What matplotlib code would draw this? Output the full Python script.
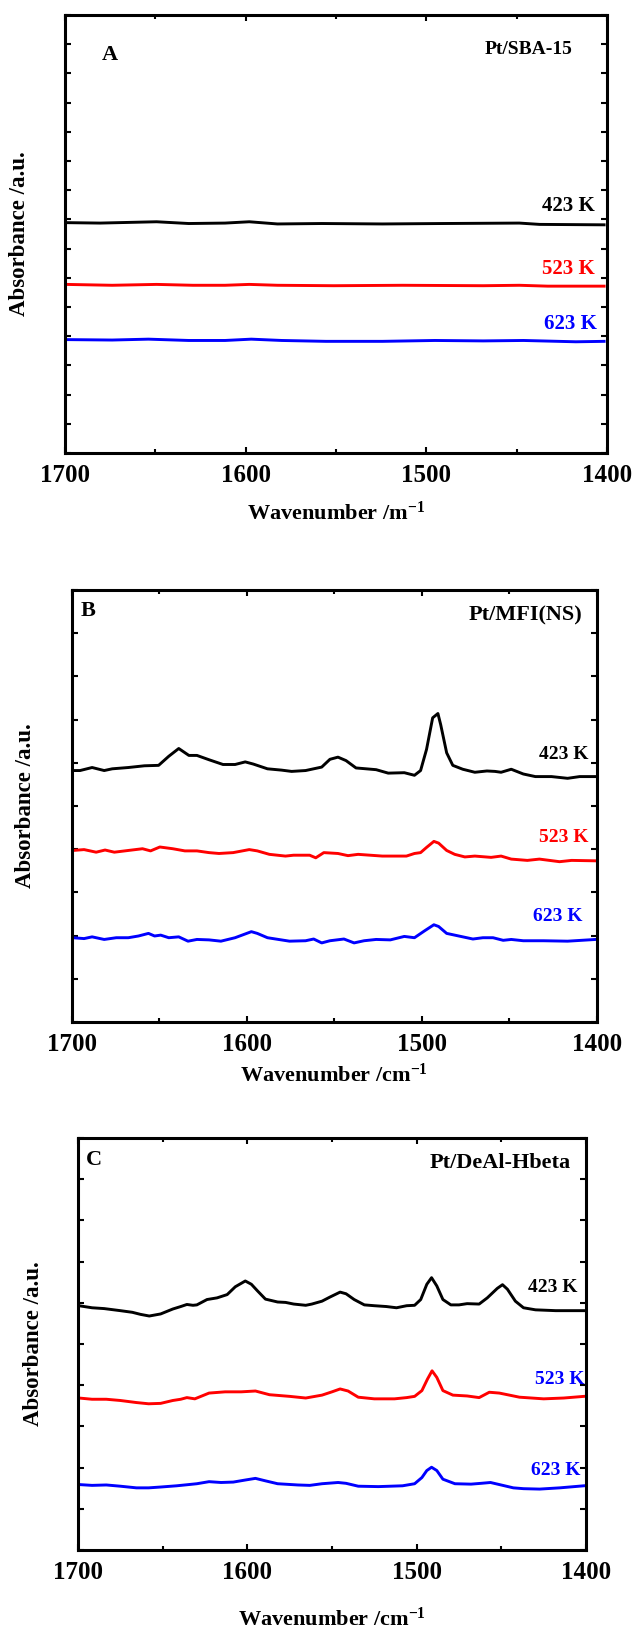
import numpy as np
from matplotlib import pyplot as plt

plt.rcParams['font.family'] = ['Liberation Serif', 'DejaVu Serif']
plt.rcParams['font.weight'] = 'bold'
plt.rcParams['mathtext.fontset'] = 'custom'
plt.rcParams['mathtext.rm'] = 'Liberation Serif:bold'
plt.rcParams['mathtext.default'] = 'rm'

# ---- panel A : Pt/SBA-15 ----
a_423_x = [1699.6, 1680.6, 1649.3, 1631.5, 1611.4, 1598.0, 1582.4, 1557.8, 1524.3, 1490.9, 1448.5, 1437.3, 1401.6]
a_423_y = [52.6, 52.5, 52.8, 52.4, 52.5, 52.8, 52.3, 52.4, 52.3, 52.4, 52.5, 52.2, 52.1]
a_523_x = [1699.6, 1673.9, 1649.3, 1629.2, 1611.4, 1598.0, 1582.4, 1551.1, 1513.2, 1468.5, 1448.5, 1432.8, 1401.6]
a_523_y = [38.5, 38.3, 38.5, 38.3, 38.3, 38.5, 38.3, 38.2, 38.3, 38.2, 38.3, 38.1, 38.1]
a_623_x = [1699.6, 1673.9, 1653.8, 1631.5, 1611.4, 1596.9, 1580.1, 1555.6, 1524.3, 1495.3, 1468.5, 1446.2, 1417.2, 1401.6]
a_623_y = [25.9, 25.8, 26.0, 25.7, 25.7, 26.0, 25.7, 25.5, 25.5, 25.7, 25.6, 25.7, 25.4, 25.5]

# ---- panel B : Pt/MFI(NS) ----
b_423_x = [1699.5, 1695.4, 1688.5, 1681.6, 1677.0, 1667.8, 1658.6, 1650.5, 1644.7, 1639.0, 1633.2, 1628.6,
           1621.7, 1613.7, 1606.8, 1601.0, 1596.4, 1588.3, 1580.3, 1574.5, 1566.5, 1557.3, 1552.6, 1548.0,
           1543.4, 1537.7, 1531.9, 1526.2, 1519.3, 1510.1, 1504.3, 1500.8, 1497.4, 1493.9, 1490.9, 1489.3,
           1485.9, 1482.4, 1476.7, 1469.8, 1462.9, 1458.3, 1454.8, 1449.0, 1442.1, 1435.2, 1426.0, 1416.8,
           1409.9, 1400.7]
b_423_y = [58.2, 58.2, 58.9, 58.2, 58.6, 58.9, 59.3, 59.4, 61.5, 63.3, 61.7, 61.7,
           60.7, 59.6, 59.6, 60.2, 59.7, 58.6, 58.3, 58.0, 58.2, 59.0, 60.8, 61.3,
           60.5, 58.8, 58.6, 58.4, 57.6, 57.7, 57.1, 58.2, 63.1, 70.4, 71.4, 68.8,
           62.3, 59.4, 58.5, 57.8, 58.1, 58.0, 57.8, 58.5, 57.4, 56.8, 56.8, 56.4,
           56.8, 56.8]
b_523_x = [1699.5, 1693.1, 1686.2, 1681.1, 1675.8, 1667.8, 1659.7, 1655.1, 1649.8, 1642.4, 1635.5, 1628.6,
           1621.7, 1616.0, 1607.9, 1598.7, 1594.1, 1587.2, 1578.0, 1573.4, 1564.2, 1560.7, 1556.1, 1548.0,
           1542.3, 1536.5, 1522.7, 1508.9, 1504.3, 1500.8, 1497.4, 1493.2, 1490.5, 1485.9, 1481.3, 1475.5,
           1469.8, 1460.5, 1454.8, 1449.0, 1439.8, 1432.9, 1421.4, 1414.5, 1400.7]
b_523_y = [39.7, 39.9, 39.3, 39.8, 39.3, 39.7, 40.1, 39.6, 40.5, 40.1, 39.6, 39.6,
           39.2, 39.0, 39.2, 39.9, 39.6, 38.8, 38.4, 38.6, 38.6, 38.0, 39.2, 39.0,
           38.5, 38.8, 38.4, 38.4, 39.0, 39.2, 40.4, 41.8, 41.4, 39.7, 38.8, 38.2,
           38.4, 38.1, 38.4, 37.7, 37.4, 37.7, 37.1, 37.4, 37.3]
b_623_x = [1699.5, 1693.1, 1688.5, 1681.6, 1674.7, 1667.8, 1662.0, 1656.3, 1652.8, 1649.3, 1644.7, 1639.0,
           1633.7, 1628.6, 1621.7, 1614.9, 1606.8, 1597.5, 1594.1, 1588.3, 1575.7, 1566.5, 1561.9, 1557.3,
           1552.6, 1544.6, 1538.8, 1533.1, 1526.2, 1518.1, 1510.1, 1504.3, 1498.5, 1493.2, 1490.5, 1485.9,
           1479.0, 1470.9, 1465.2, 1459.4, 1453.6, 1449.0, 1442.1, 1430.6, 1416.8, 1400.7]
b_623_y = [19.5, 19.3, 19.7, 19.1, 19.5, 19.5, 19.9, 20.5, 19.9, 20.1, 19.5, 19.7,
           18.7, 19.1, 19.0, 18.7, 19.5, 20.9, 20.5, 19.5, 18.7, 18.8, 19.2, 18.3,
           18.8, 19.2, 18.3, 18.8, 19.1, 19.0, 19.8, 19.5, 21.1, 22.5, 22.1, 20.5,
           19.9, 19.2, 19.5, 19.5, 18.9, 19.1, 18.8, 18.8, 18.7, 19.1]

# ---- panel C : Pt/DeAl-Hbeta ----
c_423_x = [1699.5, 1691.7, 1684.5, 1675.0, 1667.9, 1663.1, 1657.9, 1651.2, 1644.0, 1639.3, 1635.7, 1632.1,
           1629.8, 1623.8, 1617.9, 1611.9, 1607.1, 1601.2, 1597.6, 1594.0, 1589.3, 1582.1, 1577.4, 1572.6,
           1565.5, 1561.9, 1555.9, 1551.2, 1545.2, 1541.7, 1536.9, 1530.9, 1525.0, 1517.9, 1511.9, 1505.9,
           1501.2, 1497.6, 1494.0, 1491.2, 1488.1, 1484.5, 1479.8, 1475.0, 1470.2, 1463.1, 1458.3, 1452.4,
           1449.3, 1446.4, 1441.7, 1436.9, 1429.8, 1417.9, 1401.2]
c_423_y = [59.3, 58.8, 58.6, 58.1, 57.7, 57.2, 56.8, 57.3, 58.5, 59.1, 59.6, 59.4,
           59.5, 60.8, 61.2, 62.0, 63.9, 65.3, 64.5, 62.9, 60.9, 60.2, 60.1, 59.7,
           59.4, 59.7, 60.4, 61.4, 62.6, 62.2, 60.8, 59.5, 59.3, 59.1, 58.8, 59.3,
           59.4, 60.8, 64.5, 66.1, 64.1, 60.8, 59.5, 59.5, 59.8, 59.7, 61.2, 63.5,
           64.4, 63.3, 60.4, 58.8, 58.3, 58.1, 58.1]
c_523_x = [1699.5, 1691.7, 1683.3, 1675.0, 1665.5, 1658.3, 1651.2, 1644.0, 1639.3, 1635.7, 1631.0, 1627.4,
           1622.6, 1613.1, 1603.6, 1595.2, 1586.9, 1575.0, 1565.5, 1555.9, 1550.0, 1545.2, 1540.5, 1534.5,
           1525.0, 1513.1, 1505.9, 1501.2, 1496.9, 1493.6, 1490.9, 1488.1, 1484.5, 1478.6, 1470.2, 1463.1,
           1457.1, 1451.2, 1446.4, 1439.3, 1425.0, 1413.1, 1401.2]
c_523_y = [36.9, 36.6, 36.6, 36.3, 35.8, 35.5, 35.6, 36.3, 36.6, 37.0, 36.7, 37.3,
           38.1, 38.4, 38.4, 38.6, 37.7, 37.3, 36.9, 37.6, 38.4, 39.1, 38.6, 37.1,
           36.7, 36.7, 37.0, 37.3, 38.7, 41.5, 43.5, 41.9, 38.7, 37.6, 37.4, 37.0,
           38.3, 38.1, 37.7, 37.1, 36.7, 36.9, 37.3]
c_623_x = [1699.5, 1691.7, 1683.3, 1675.0, 1665.5, 1658.3, 1651.2, 1641.7, 1634.5, 1629.8, 1622.6, 1615.5,
           1608.3, 1601.2, 1595.2, 1589.3, 1582.1, 1570.2, 1563.1, 1555.9, 1546.4, 1541.7, 1534.5, 1522.6,
           1508.3, 1501.2, 1496.9, 1494.0, 1491.2, 1488.1, 1484.5, 1477.4, 1467.9, 1461.9, 1456.4, 1451.2,
           1442.9, 1436.9, 1427.4, 1415.5, 1401.2]
c_623_y = [15.9, 15.7, 15.8, 15.5, 15.1, 15.1, 15.3, 15.6, 15.9, 16.1, 16.6, 16.4,
           16.5, 17.0, 17.4, 16.8, 16.1, 15.8, 15.7, 16.1, 16.4, 16.2, 15.5, 15.4,
           15.6, 16.1, 17.6, 19.3, 20.1, 19.3, 17.2, 16.1, 16.0, 16.2, 16.4, 15.9,
           15.1, 14.9, 14.8, 15.1, 15.6]

temps = ['423 K', '523 K', '623 K']
colors = ['black', '#ff0000', '#0000ff']

panels = [
    dict(rect=[0.1028, 0.7224, 0.8576, 0.2684], letter='A', name='Pt/SBA-15',
         xs=[a_423_x, a_523_x, a_623_x], ys=[a_423_y, a_523_y, a_623_y],
         letter_pos=(0.083, 0.909), name_pos=(0.856, 0.922),
         tpos=[(0.928, 0.564), (0.928, 0.420), (0.932, 0.295)], tsize=15, nsize=14,
         tcol=colors, nticks=16, xlabel='Wavenumber /m$^{-1}$', xl_y=-0.137, yl_x=-0.083),
    dict(rect=[0.1139, 0.3738, 0.8307, 0.2647], letter='B', name='Pt/MFI(NS)',
         xs=[b_423_x, b_523_x, b_623_x], ys=[b_423_y, b_523_y, b_623_y],
         letter_pos=(0.030, 0.951), name_pos=(0.863, 0.940),
         tpos=[(0.937, 0.620), (0.937, 0.428), (0.926, 0.245)], tsize=14, nsize=16,
         tcol=colors, nticks=11, xlabel='Wavenumber /cm$^{-1}$', xl_y=-0.123, yl_x=-0.088),
    dict(rect=[0.1234, 0.0502, 0.8038, 0.2525], letter='C', name='Pt/DeAl-Hbeta',
         xs=[c_423_x, c_523_x, c_623_x], ys=[c_423_y, c_523_y, c_623_y],
         letter_pos=(0.031, 0.947), name_pos=(0.831, 0.939),
         tpos=[(0.935, 0.636), (0.949, 0.413), (0.941, 0.194)], tsize=14, nsize=16,
         tcol=['black', '#0000ff', '#0000ff'], nticks=11, xlabel='Wavenumber /cm$^{-1}$',
         xl_y=-0.167, yl_x=-0.087),
]

fig = plt.figure(figsize=(6.32, 16.32), dpi=100)

for p in panels:
    ax = fig.add_axes(p['rect'])
    for x, y, c in zip(p['xs'], p['ys'], colors):
        ax.plot(x, y, color=c, lw=2.1)
    ax.set_xlim(1700, 1400)
    ax.set_ylim(0, 100)
    ax.set_xticks([1700, 1600, 1500, 1400])
    ax.set_xticks([1650, 1550, 1450], minor=True)
    ax.set_yticks(np.linspace(0, 100, p['nticks']))
    ax.set_yticklabels([])
    ax.tick_params(which='both', direction='in', top=True, right=True, width=1.5)
    ax.tick_params(which='major', length=4, labelsize=18, pad=8)
    ax.tick_params(which='minor', length=3)
    for sp in ax.spines.values():
        sp.set_linewidth(2.2)
    ax.set_xlabel(p['xlabel'], fontsize=16, fontweight='bold')
    ax.xaxis.set_label_coords(0.5, p['xl_y'])
    ax.xaxis.label.set_va('center')
    ax.set_ylabel('Absorbance /a.u.', fontsize=16.5, fontweight='bold')
    ax.yaxis.set_label_coords(p['yl_x'], 0.5)
    ax.yaxis.label.set_va('center')
    ax.text(*p['letter_pos'], p['letter'], transform=ax.transAxes, fontsize=16,
            fontweight='bold', ha='center', va='center')
    ax.text(*p['name_pos'], p['name'], transform=ax.transAxes, fontsize=p['nsize'],
            fontweight='bold', ha='center', va='center')
    for t, pos, c in zip(temps, p['tpos'], p['tcol']):
        ax.text(*pos, t, transform=ax.transAxes, fontsize=p['tsize'], color=c,
                fontweight='bold', ha='center', va='center')

fig.savefig('out.png', dpi=100)
